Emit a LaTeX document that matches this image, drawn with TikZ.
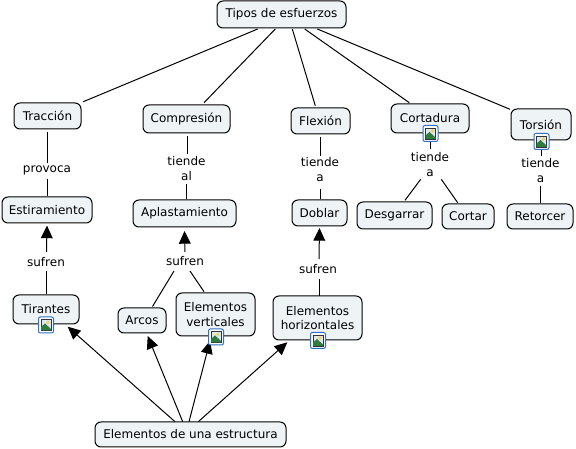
\documentclass[tikz,border=0pt]{standalone}
\usepackage{fontspec}
\setmainfont{DejaVu Sans}
\usetikzlibrary{calc,arrows.meta}
\definecolor{boxfill}{HTML}{EEF3F6}
\definecolor{iconblue}{HTML}{2F6FC4}
\definecolor{iconsky}{HTML}{DCE8F6}
\definecolor{icongreen}{HTML}{2E7D3C}
\definecolor{iconsun}{HTML}{F2D64B}
\tikzset{
  concept/.style n args={2}{draw=black,fill=boxfill,rounded corners=4.5pt,line width=0.75pt,
    minimum width=#1*0.75pt,minimum height=#2*0.75pt,inner sep=0pt,outer sep=0pt,align=center,
    font=\fontsize{9pt}{10.75pt}\selectfont,text=black},
  linklabel/.style={inner sep=0pt,outer sep=0pt,align=center,
    font=\fontsize{9pt}{11.25pt}\selectfont,text=black},
  conn/.style={draw=black,line width=0.75pt},
  arrowconn/.style={conn,-{Triangle[width=8.8pt,length=9.5pt]}},
  pics/imgicon/.style={code={
    \fill[white,draw=iconblue,line width=0.75pt,rounded corners=1.5pt] (-7.5,-8) rectangle (7.5,8);
    \fill[iconsky,draw=black!80,line width=0.6pt] (-5,-5.5) rectangle (5,5.5);
    \fill[icongreen] (-5,5.5) -- (-5,2) -- (-1,-1.5) -- (5,4) -- (5,5.5) -- cycle;
    \fill[iconsun] (2,-2.5) circle (1.9);
  }}
}
\begin{document}
\begin{tikzpicture}[x=0.75pt,y=-0.75pt]
\useasboundingbox (0,0) rectangle (576,449);
\node[concept={129}{27}] (tipos) at (281.5,14.5) {Tipos de esfuerzos};
\node[concept={67}{26}] (traccion) at (47.5,116) {Tracción};
\node[concept={87}{28}] (compresion) at (186.5,119) {Compresión};
\node[concept={59}{26}] (flexion) at (320.5,121) {Flexión};
\node[concept={78}{29}] (cortadura) at (430,118.5) {Cortadura};
\node[concept={60}{31}] (torsion) at (541,124.5) {Torsión};
\node[concept={75}{27}] (desgarrar) at (394.5,215.5) {Desgarrar};
\node[concept={52}{25}] (cortar) at (468,216.5) {Cortar};
\node[concept={66}{25}] (retorcer) at (540,216.5) {Retorcer};
\node[concept={90}{26}] (estiramiento) at (47,210) {Estiramiento};
\node[concept={103}{27}] (aplastamiento) at (184.5,213.5) {Aplastamiento};
\node[concept={55}{26}] (doblar) at (319.5,213) {Doblar};
\node[concept={66}{29}] (tirantes) at (46,309.5) {Tirantes};
\node[concept={48}{25}] (arcos) at (142,320.5) {Arcos};
\node[concept={79}{43}] (verticales) at (215.5,314.5) {Elementos\\verticales};
\node[concept={89}{44}] (horizontales) at (317.5,318) {Elementos\\horizontales};
\node[concept={191}{25}] (estructura) at (190.5,434.5) {Elementos de una estructura};

\node[linklabel] (lprovoca) at (47,170.5) {provoca};
\node[linklabel] (ltal) at (186.5,169) {tiende\\al};
\node[linklabel] (ltflex) at (320,169.5) {tiende\\a};
\node[linklabel] (ltcort) at (430,164.5) {tiende\\a};
\node[linklabel] (lttors) at (540.5,171) {tiende\\a};
\node[linklabel] (lsest) at (46,262) {sufren};
\node[linklabel] (lsapl) at (185,261) {sufren};
\node[linklabel] (lsdob) at (318,269) {sufren};

% Tipos de esfuerzos to its five kinds
\draw[conn] ($(tipos.center)+(-23.8,14.5)$) -- ($(traccion.center)+(35.8,-14.3)$);
\draw[conn] ($(tipos.center)+(-6.2,14.5)$) -- ($(compresion.center)+(17.5,-16.3)$);
\draw[conn] ($(tipos.center)+(10.8,14.5)$) -- ($(flexion.center)+(-5.2,-15.3)$);
\draw[conn] ($(tipos.center)+(23.2,14.5)$) -- ($(cortadura.center)+(-20.7,-15.8)$);
\draw[conn] ($(tipos.center)+(35.8,14.5)$) -- ($(torsion.center)+(-31,-15.2)$);

% kinds to link labels to effects
\draw[conn] ($(traccion.center)+(0,16)$) -- ($(lprovoca.center)+(0.5,-7.5)$);
\draw[conn] ($(lprovoca.center)+(0.5,8.5)$) -- ($(estiramiento.center)+(0.5,-13.5)$);
\draw[conn] ($(compresion.center)+(1,17)$) -- ($(ltal.center)+(1,-15)$);
\draw[conn] ($(ltal.center)+(0,15)$) -- ($(aplastamiento.center)+(2,-14.5)$);
\draw[conn] ($(flexion.center)+(0,16)$) -- ($(ltflex.center)+(0.5,-13.5)$);
\draw[conn] ($(ltflex.center)+(0.5,19.5)$) -- ($(doblar.center)+(1,-14)$);
\draw[conn] ($(cortadura.center)+(0.5,23.5)$) -- ($(ltcort.center)+(0.5,-15.5)$);
\draw[conn] ($(ltcort.center)+(-9.3,14.8)$) -- ($(desgarrar.center)+(10.5,-15.2)$);
\draw[conn] ($(ltcort.center)+(11.3,14.8)$) -- ($(cortar.center)+(-10.3,-13.8)$);
\draw[conn] ($(torsion.center)+(0.5,25.5)$) -- ($(lttors.center)+(1,-14.5)$);
\draw[conn] ($(lttors.center)+(0,15)$) -- ($(retorcer.center)+(0.5,-13.5)$);

% structural elements
\draw[conn] ($(tirantes.center)+(0.5,-15)$) -- ($(lsest.center)+(0.5,9)$);
\draw[arrowconn] ($(lsest.center)+(0.5,-10)$) -- ($(estiramiento.center)+(0,15.5)$);
\draw[conn] ($(arcos.center)+(10.5,-14)$) -- ($(lsapl.center)+(-11,10)$);
\draw[conn] ($(verticales.center)+(-11.5,-22.8)$) -- ($(lsapl.center)+(5,10)$);
\draw[arrowconn] ($(lsapl.center)+(0,-9)$) -- ($(aplastamiento.center)+(0,17.5)$);
\draw[conn] ($(horizontales.center)+(2,-22)$) -- ($(lsdob.center)+(1.5,10)$);
\draw[arrowconn] ($(lsdob.center)+(1,-10)$) -- ($(doblar.center)+(0,15)$);

\draw[arrowconn] ($(estructura.center)+(-15.5,-12.8)$) -- ($(tirantes.center)+(21.7,17.2)$);
\draw[arrowconn] ($(estructura.center)+(-7.8,-12.8)$) -- ($(arcos.center)+(5.7,15.5)$);
\draw[arrowconn] ($(estructura.center)+(-1.5,-12.8)$) -- ($(verticales.center)+(-5.5,26.5)$);
\draw[arrowconn] ($(estructura.center)+(7.8,-12.8)$) -- ($(horizontales.center)+(-30.2,24.3)$);

\pic at (430.5,133.5) {imgicon};
\pic at (541.5,141.5) {imgicon};
\pic at (46,325) {imgicon};
\pic at (216,337) {imgicon};
\pic at (318,340.5) {imgicon};
\end{tikzpicture}
\end{document}
